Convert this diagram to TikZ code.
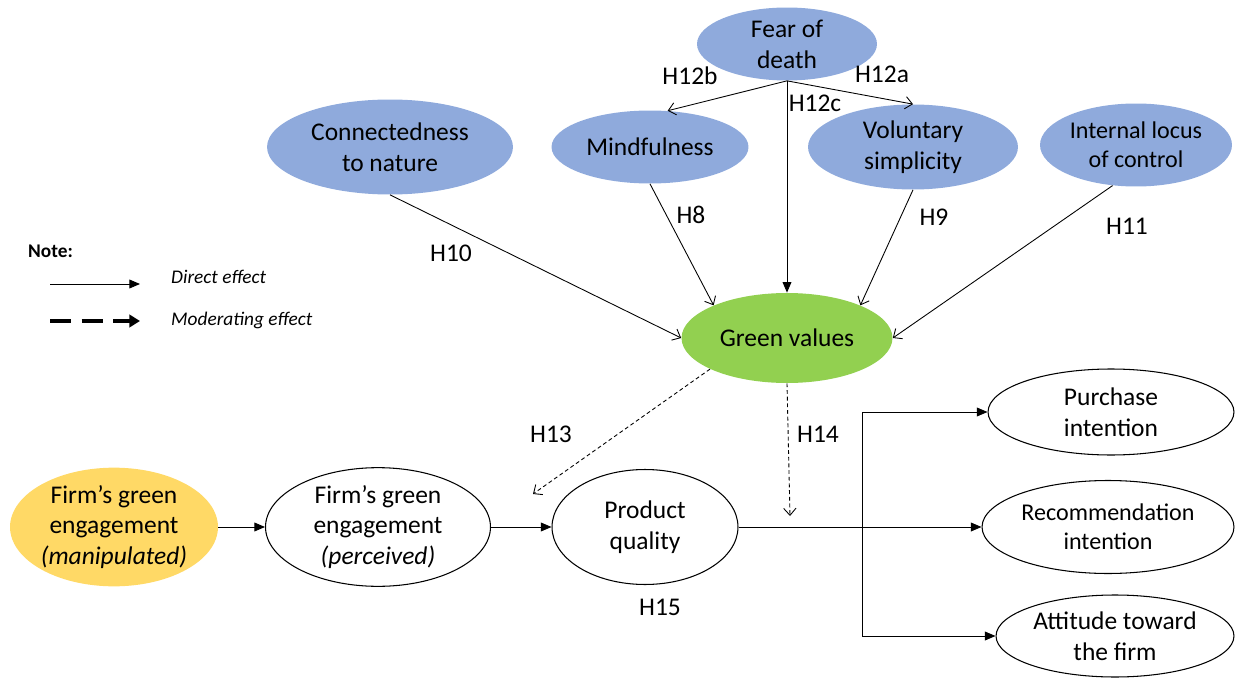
\documentclass[tikz,border=0pt]{standalone}
\usepackage{fontspec}
\setmainfont{Carlito}
\usetikzlibrary{shapes.geometric,arrows.meta}
\definecolor{traitblue}{HTML}{8FAADC}
\definecolor{valuegreen}{HTML}{92D050}
\definecolor{manipyellow}{HTML}{FFD966}

\begin{document}
\begin{tikzpicture}[x=0.02cm, y=-0.02cm,
		every node/.style={font=\fontsize{14.5}{17.6}\selectfont},
		smalltext/.style={font=\fontsize{13.7}{16.6}\selectfont},
		trait/.style={ellipse, fill=traitblue, inner sep=0pt, align=center},
		construct/.style={ellipse, draw, line width=0.6pt, inner sep=0pt, align=center},
		direct/.style={line width=0.5pt, -{Triangle[length=6pt, width=5pt]}},
		effect/.style={line width=0.5pt, -{Straight Barb[length=4pt, width=7pt]}},
		moderate/.style={line width=0.5pt, dash pattern=on 2.2pt off 1.6pt, -{Straight Barb[length=4pt, width=7pt]}},
		legendtext/.style={font=\fontsize{11}{13}\selectfont\itshape, anchor=west}]
				\useasboundingbox (0,0) rectangle (1241,679);
				\node[trait, minimum width=3.6cm, minimum height=1.46cm] (fear) at (787,44) {Fear of\\death};
				\node[trait, minimum width=4.92cm, minimum height=1.9cm] (conn) at (390,147) {Connectedness\\to nature};
				\node[trait, minimum width=3.94cm, minimum height=1.46cm] (mind) at (650,147) {Mindfulness};
				\node[trait, minimum width=4.2cm, minimum height=1.7cm] (vol) at (913,147) {Voluntary\\simplicity};
				\node[trait, smalltext, minimum width=3.84cm, minimum height=1.66cm] (intl) at (1136,145) {Internal locus\\of control};
				\node[ellipse, fill=valuegreen, inner sep=0pt, minimum width=4.22cm, minimum height=1.8cm] (green) at (787,338) {Green values};
				\node[ellipse, fill=manipyellow, inner sep=0pt, align=center, minimum width=4.16cm, minimum height=2.3cm] (manip) at (114,527) {Firm’s green\\engagement\\\textit{(manipulated)}};
				\node[construct, minimum width=4.5cm, minimum height=2.3cm] (perc) at (378,527) {Firm’s green\\engagement\\\textit{(perceived)}};
				\node[construct, minimum width=3.72cm, minimum height=2.3cm] (pq) at (645,527) {Product\\quality};
				\node[construct, minimum width=4.92cm, minimum height=1.72cm] (purch) at (1111,412) {Purchase\\intention};
				\node[construct, smalltext, minimum width=5.04cm, minimum height=1.86cm] (rec) at (1108,527) {Recommendation\\intention};
				\node[construct, minimum width=4.76cm, minimum height=1.64cm] (att) at (1115,636) {Attitude toward\\the firm};
				\coordinate (h13end) at (533,494);
				\coordinate (h14end) at (790,516);
				\coordinate (split) at (862,527);
				\draw[effect] (fear.south) -- (mind.64);
				\draw[effect] (fear.south) -- (vol.north);
				\draw[direct] (fear.south) -- (green.north);
				\draw[effect] (conn.south) -- (green.west);
				\draw[effect] (mind.south) -- (green.156);
				\draw[effect] (vol.south) -- (green.24);
				\draw[effect] (intl.-120) -- (green.east);
				\draw[moderate] (green.-158) -- (h13end);
				\draw[moderate] (green.south) -- (h14end);
				\draw[direct] (manip.east) -- (perc.west);
				\draw[direct] (perc.east) -- (pq.west);
				\draw[direct] (pq.east) -- (rec.west);
				\draw[direct] (split) |- (purch.west);
				\draw[direct] (split) |- (att.west);
				\node (h12b) at (690,76) {H12b};
				\node (h12a) at (882,74) {H12a};
				\node (h12c) at (815,103) {H12c};
				\node (h10) at (451,253) {H10};
				\node (h8) at (691,215) {H8};
				\node (h9) at (934,217) {H9};
				\node (h11) at (1127,226) {H11};
				\node (h13) at (551,434) {H13};
				\node (h14) at (818,434) {H14};
				\node (h15) at (660,607) {H15};
				\node[anchor=west, font=\fontsize{11}{13}\selectfont\bfseries] (note) at (22,251) {Note:};
				\coordinate (dstart) at (50,284);
				\coordinate (dend) at (140,284);
				\coordinate (mstart) at (50,321);
				\coordinate (mend) at (140,321);
				\draw[direct] (dstart) -- (dend);
				\draw[line width=2pt, dash pattern=on 12pt off 6pt, -{Triangle[length=6pt, width=7pt]}] (mstart) -- (mend);
				\node[legendtext] (directlbl) at (165,277) {Direct effect};
				\node[legendtext] (modlbl) at (165,320) {Moderating effect};
			\end{tikzpicture}
\end{document}
